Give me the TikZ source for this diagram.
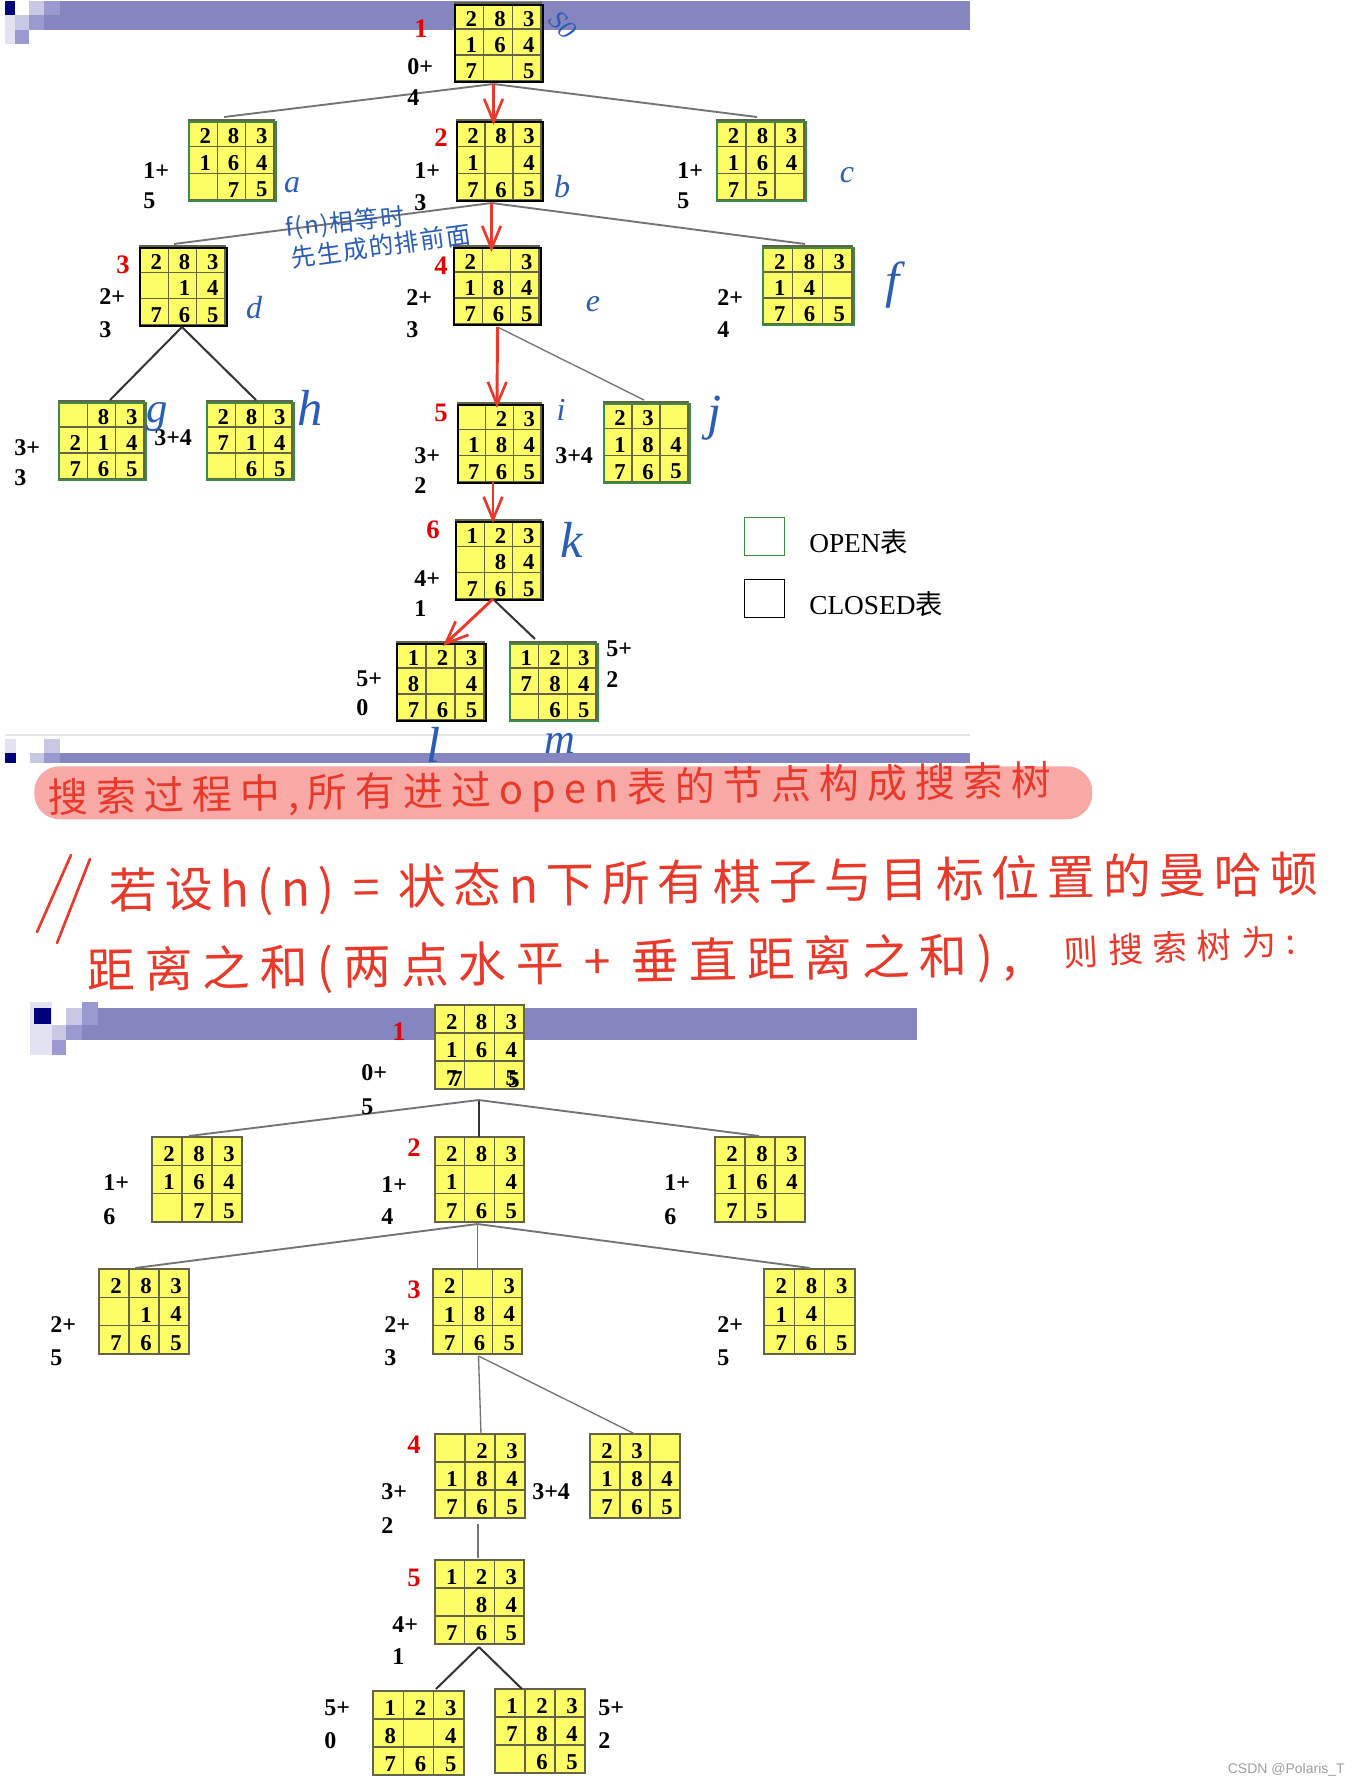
\documentclass[tikz,border=0pt]{standalone}
\usepackage{fontspec}
\setmainfont{Liberation Serif}
\newfontfamily\cjk{Noto Sans CJK SC}
\newfontfamily\wmfont{Liberation Sans}
\usetikzlibrary{arrows.meta,calc}
\definecolor{barA}{HTML}{8585C0}
\definecolor{barB}{HTML}{9A9AD0}
\definecolor{barC}{HTML}{C8C8E4}
\definecolor{barD}{HTML}{E2E2F2}
\definecolor{navyA}{HTML}{00007F}
\definecolor{cellY}{HTML}{FDFD66}
\definecolor{gridG}{HTML}{63634A}
\definecolor{openG}{HTML}{3C8A46}
\definecolor{penR}{HTML}{E8392A}
\definecolor{penB}{HTML}{2A5DB5}
\definecolor{pill}{HTML}{F8A9A6}
\def\pxu{0.75pt}
\tikzset{
  x=0.75pt,y=-0.75pt,
  cellbox/.style={draw=gridG,fill=cellY,line width=1.1pt,inner sep=0pt,outer sep=0pt,anchor=north west},
  gridln/.style={draw=gridG,line width=1pt},
  digit/.style={inner sep=0pt,font=\bfseries\fontsize{17}{17}\selectfont,text=black},
  lab/.style={inner sep=0pt,anchor=west,font=\bfseries\fontsize{18}{18}\selectfont,text=black},
  rednum/.style={inner sep=0pt,font=\bfseries\fontsize{20}{20}\selectfont,text=red!90!black},
  ringopen/.style={draw=openG,line width=0.9pt,inner sep=0pt,outer sep=0pt,anchor=north west},
  ringclosed/.style={draw=black,line width=1.3pt,inner sep=0pt,outer sep=0pt,anchor=north west},
  tree/.style={draw=black!55,line width=1.4pt},
  treedark/.style={draw=black!80,line width=1.5pt},
  treethin/.style={draw=black!55,line width=1pt},
  redarrow/.style={draw=penR,line width=2.2pt,-{Straight Barb[length=17pt,width=14pt,line width=2pt]}},
  pen/.style={inner sep=0pt,text=penB,font=\itshape\fontsize{24}{24}\selectfont},
  penmid/.style={inner sep=0pt,text=penB,font=\itshape\fontsize{32}{32}\selectfont},
  penbig/.style={inner sep=0pt,text=penB,font=\itshape\fontsize{38}{38}\selectfont},
  penred/.style={inner sep=0pt,anchor=west,text=penR},
  legendtxt/.style={inner sep=0pt,anchor=west,font=\fontsize{20.5}{21}\selectfont},
}
% yellow 3x3 board
\newcommand\puzzle[6]{%
  \node[cellbox,minimum width={(#4-#2)*\pxu},minimum height={(#5-#3)*\pxu}] (#1) at (#2,#3) {};
  \draw[gridln] ($(#1.north west)!1/3!(#1.north east)$) -- ($(#1.south west)!1/3!(#1.south east)$);
  \draw[gridln] ($(#1.north west)!2/3!(#1.north east)$) -- ($(#1.south west)!2/3!(#1.south east)$);
  \draw[gridln] ($(#1.north west)!1/3!(#1.south west)$) -- ($(#1.north east)!1/3!(#1.south east)$);
  \draw[gridln] ($(#1.north west)!2/3!(#1.south west)$) -- ($(#1.north east)!2/3!(#1.south east)$);
  \foreach \dg [count=\ii] in {#6}{%
    \ifnum\dg=0\relax\else
      \pgfmathsetmacro\cx{#2+(mod(\ii-1,3)+0.5)*(#4-#2)/3+2}%
      \pgfmathsetmacro\cy{#3+(floor((\ii-1)/3)+0.5)*(#5-#3)/3+3}%
      \node[digit] (#1-d\ii) at (\cx,\cy) {\dg};
    \fi
  }%
}
% board of the upper tree: yellow board with a shifted outline
\newcommand\tpz[7]{%
  \pgfmathsetmacro\xe{#5-2}\pgfmathsetmacro\ye{#6-1}\pgfmathsetmacro\yr{#4+2}%
  \puzzle{#2}{#3}{#4}{\xe}{\ye}{#7}
  \node[#1,minimum width={(#5-#3)*\pxu},minimum height={(#6-\yr)*\pxu}] (#2-ring) at (#3,\yr) {};
}
% connector: style, parent, dx, dy below parent, child, dx, dy below child top
\newcommand\conn[7]{%
  \draw[#1] ([xshift={(#3)*\pxu},yshift={-1*(#4)*\pxu}]#2.south) -- ([xshift={(#6)*\pxu},yshift={-1*(#7)*\pxu}]#5.north);
}
\begin{document}
\begin{tikzpicture}
\useasboundingbox (0,0) rectangle (1360,1785);
\fill[white] (0,0) rectangle (1360,1785);
% slide bars
\fill[barA] (60,1) rectangle (970,30);
\fill[barA] (44,15) rectangle (60,30);
\fill[barB] (44,1) rectangle (60,15);
\fill[barC] (29,1) rectangle (44,15);
\fill[navyA] (5,1) rectangle (15,15);
\fill[barD] (5,15) rectangle (15,44);
\fill[barC] (15,15) rectangle (29,30);
\fill[barB] (29,15) rectangle (44,30);
\fill[barB] (15,30) rectangle (29,44);
\fill[black!10] (5,734) rectangle (970,736);
\fill[barD] (5,739) rectangle (16,753);
\fill[barC] (44,739) rectangle (60,753);
\fill[navyA] (5,753) rectangle (16,763);
\fill[barC] (30,753) rectangle (44,763);
\fill[barB] (44,753) rectangle (60,763);
\fill[barA] (60,753) rectangle (970,763);
\fill[barD] (30,1002) rectangle (52,1055);
\fill[navyA] (34,1008) rectangle (51,1024);
\fill[barC] (66,1008) rectangle (82,1025);
\fill[barB] (82,1002) rectangle (98,1025);
\fill[barA] (98,1008) rectangle (917,1040);
\fill[barC] (52,1025) rectangle (66,1040);
\fill[barB] (66,1025) rectangle (82,1040);
\fill[barA] (82,1025) rectangle (98,1040);
\fill[barB] (52,1040) rectangle (66,1055);
% pink pill
\node[fill=pill,rounded corners=19pt,inner sep=0pt,minimum width={1058*\pxu},minimum height={53*\pxu},anchor=north west] (pillbox) at (34,766) {};
% upper tree: boards
\tpz{ringclosed}{ra}{455}{3}{543}{82}{2,8,3,1,6,4,7,0,5}
\tpz{ringopen}{ua}{189}{120}{276}{201}{2,8,3,1,6,4,0,7,5}
\tpz{ringclosed}{ub}{457}{120}{543}{201}{2,8,3,1,0,4,7,6,5}
\tpz{ringopen}{uc}{717}{120}{806}{201}{2,8,3,1,6,4,7,5,0}
\tpz{ringclosed}{ud}{140}{246}{227}{326}{2,8,3,0,1,4,7,6,5}
\tpz{ringclosed}{ue}{454}{246}{541}{325}{2,0,3,1,8,4,7,6,5}
\tpz{ringopen}{uf}{763}{246}{854}{325}{2,8,3,1,4,0,7,6,5}
\tpz{ringopen}{ug}{59}{401}{146}{480}{0,8,3,2,1,4,7,6,5}
\tpz{ringopen}{uh}{207}{401}{294}{480}{2,8,3,7,1,4,0,6,5}
\tpz{ringclosed}{ui}{458}{403}{543}{483}{0,2,3,1,8,4,7,6,5}
\tpz{ringopen}{uj}{604}{402}{690}{483}{2,3,0,1,8,4,7,6,5}
\tpz{ringclosed}{uk}{456}{520}{543}{600}{1,2,3,0,8,4,7,6,5}
\tpz{ringclosed}{ul}{397}{642}{486}{721}{1,2,3,8,0,4,7,6,5}
\tpz{ringopen}{um}{510}{642}{598}{721}{1,2,3,7,8,4,0,6,5}
% upper tree: connectors
\conn{tree}{ra}{-4.5}{3}{ua}{-7.5}{-3}
\conn{tree}{ra}{-4.5}{3}{uc}{-3.5}{-3}
\conn{tree}{ub}{-7.5}{3}{ud}{-8.5}{-2}
\conn{tree}{ub}{-7.5}{3}{uf}{-2.5}{-2}
\conn{treedark}{ud}{-0.5}{2}{ug}{8.5}{-1}
\conn{treedark}{ud}{-0.5}{2}{uh}{6.5}{-1}
\conn{treethin}{ue}{1}{3}{uj}{-2}{-2}
\conn{treedark}{uk}{-5.5}{0}{um}{-18}{-3}
\conn{redarrow}{ra}{-4.5}{3}{ub}{-5.5}{5}
\conn{redarrow}{ub}{-7.5}{3}{ue}{-5}{6}
\conn{redarrow}{ue}{1}{3}{ui}{-2.5}{5}
\conn{redarrow}{ui}{-6.5}{0}{uk}{-5.5}{3}
\conn{redarrow}{uk}{-5.5}{0}{ul}{2.5}{4}
% upper tree: labels
\node[rednum] (n1) at (421,29) {1};
\node[lab] (f1a) at (407,67) {0+};
\node[lab] (f1b) at (407,98) {4};
\node[lab] (fa1) at (143,171) {1+};
\node[lab] (fa2) at (143,201) {5};
\node[rednum] (n2) at (441,138) {2};
\node[lab] (fb1) at (414,171) {1+};
\node[lab] (fb2) at (414,203) {3};
\node[lab] (fc1) at (677,171) {1+};
\node[lab] (fc2) at (677,201) {5};
\node[rednum] (n3) at (123,265) {3};
\node[lab] (fd1) at (99,297) {2+};
\node[lab] (fd2) at (99,330) {3};
\node[rednum] (n4) at (441,266) {4};
\node[lab] (fe1) at (406,298) {2+};
\node[lab] (fe2) at (406,330) {3};
\node[lab] (ff1) at (717,298) {2+};
\node[lab] (ff2) at (717,330) {4};
\node[lab] (fg1) at (14,448) {3+};
\node[lab] (fg2) at (14,478) {3};
\node[lab] (fh1) at (154,438) {3+4};
\node[rednum] (n5) at (441,413) {5};
\node[lab] (fi1) at (414,456) {3+};
\node[lab] (fi2) at (414,486) {2};
\node[lab] (fj1) at (555,456) {3+4};
\node[rednum] (n6) at (433,530) {6};
\node[lab] (fk1) at (414,579) {4+};
\node[lab] (fk2) at (414,609) {1};
\node[lab] (fl1) at (356,679) {5+};
\node[lab] (fl2) at (356,708) {0};
\node[lab] (fm1) at (606,649) {5+};
\node[lab] (fm2) at (606,680) {2};
% legend
\node[draw=openG,line width=0.9pt,inner sep=0pt,anchor=north west,minimum width={40*\pxu},minimum height={38*\pxu}] (keyopen) at (744,517) {};
\node[draw=black,line width=0.9pt,inner sep=0pt,anchor=north west,minimum width={40*\pxu},minimum height={38*\pxu}] (keyclosed) at (744,579) {};
\node[legendtxt] (keyopent) at (809,542) {OPEN{\cjk 表}};
\node[legendtxt] (keyclosedt) at (809,604) {CLOSED{\cjk 表}};
% handwritten blue notes
\node[inner sep=0pt,text=penB,rotate=-45,font=\itshape\fontsize{20}{20}\selectfont] (sz) at (563,25) {S0};
\node[pen] (ha) at (292,185) {a};
\node[pen] (hb) at (562,187) {b};
\node[pen] (hc) at (847,175) {c};
\node[pen] (hd) at (254,308) {d};
\node[pen] (he) at (593,304) {e};
\node[penbig] (hf) at (893,285) {f};
\node[penmid] (hg) at (157,417) {g};
\node[penbig] (hh) at (310,408) {h};
\node[pen] (hi) at (561,410) {i};
\node[penbig] (hj) at (715,418) {j};
\node[penbig] (hk) at (572,540) {k};
\node[penbig] (hl) at (434,745) {l};
\node[penmid] (hm) at (560,743) {m};
\node[inner sep=0pt,text=penB,rotate=5.7] (note1) at (345,223) {\cjk\fontsize{18}{18}\selectfont\addfontfeature{LetterSpace=6}f(n)相等时};
\node[inner sep=0pt,text=penB,rotate=8] (note2) at (381,246) {\cjk\fontsize{18.5}{18.5}\selectfont\addfontfeature{LetterSpace=6}先生成的排前面};
% handwritten red text
\node[penred,rotate=1] (line1) at (48,800) {\cjk\fontsize{30}{30}\selectfont\addfontfeature{LetterSpace=20}搜索过程中,所有进过open表的节点构成搜索树};
\draw[penR,line width=2pt,line cap=round] (71,855) -- (37,932);
\draw[penR,line width=2pt,line cap=round] (90,859) -- (57,943);
\node[penred,rotate=0.8] (line2) at (109,893) {\cjk\fontsize{36}{36}\selectfont\addfontfeature{LetterSpace=16}若设h(n) = 状态n下所有棋子与目标位置的曼哈顿};
\node[penred,rotate=1] (line3a) at (87,973) {\cjk\fontsize{36}{36}\selectfont\addfontfeature{LetterSpace=20}距离之和(两点水平 + 垂直距离之和),};
\node[penred,rotate=3] (line3b) at (1064,953) {\cjk\fontsize{26}{26}\selectfont\addfontfeature{LetterSpace=28}则搜索树为:};
% lower tree: boards
\puzzle{ba}{435}{1005}{524}{1089}{2,8,3,1,6,4,7,0,5}
\node[digit] (ba-x7) at (457,1079) {7};
\node[digit] (ba-x5) at (514,1080) {5};
\puzzle{aa}{152}{1137}{242}{1222}{2,8,3,1,6,4,0,7,5}
\puzzle{bb}{435}{1137}{524}{1222}{2,8,3,1,0,4,7,6,5}
\puzzle{cc}{715}{1137}{805}{1222}{2,8,3,1,6,4,7,5,0}
\puzzle{dd}{99}{1269}{189}{1354}{2,8,3,0,1,4,7,6,5}
\puzzle{ee}{433}{1269}{522}{1354}{2,0,3,1,8,4,7,6,5}
\puzzle{ff}{764}{1269}{855}{1354}{2,8,3,1,4,0,7,6,5}
\puzzle{gg}{435}{1434}{525}{1518}{0,2,3,1,8,4,7,6,5}
\puzzle{hh2}{590}{1434}{680}{1518}{2,3,0,1,8,4,7,6,5}
\puzzle{kk}{435}{1560}{524}{1644}{1,2,3,0,8,4,7,6,5}
\puzzle{ll}{373}{1691}{464}{1775}{1,2,3,8,0,4,7,6,5}
\puzzle{mm}{495}{1689}{585}{1773}{1,2,3,7,8,4,0,6,5}
% lower tree: connectors
\conn{tree}{ba}{-1}{11}{aa}{-8}{-1}
\conn{treedark}{ba}{-1}{11}{bb}{-1}{0}
\conn{tree}{ba}{-1}{11}{cc}{-1}{-1}
\conn{tree}{bb}{-2}{2}{dd}{-9}{-1}
\conn{treethin}{bb}{-2}{2}{ee}{0}{0}
\conn{tree}{bb}{-2}{2}{ff}{0.5}{-1}
\conn{treethin}{ee}{1}{2}{gg}{1}{0}
\conn{treethin}{ee}{1}{2}{hh2}{0}{0}
\conn{treethin}{gg}{-2}{6}{kk}{-1.5}{-2}
\conn{treedark}{kk}{-0.5}{3}{ll}{17.5}{-2}
\conn{treedark}{kk}{-0.5}{3}{mm}{-18}{0}
% lower tree: labels
\node[rednum] (m1) at (399,1032) {1};
\node[lab] (g1a) at (361,1073) {0+};
\node[lab] (g1b) at (361,1107) {5};
\node[lab] (ga1) at (103,1183) {1+};
\node[lab] (ga2) at (103,1217) {6};
\node[rednum] (m2) at (414,1148) {2};
\node[lab] (gb1) at (381,1185) {1+};
\node[lab] (gb2) at (381,1217) {4};
\node[lab] (gc1) at (664,1183) {1+};
\node[lab] (gc2) at (664,1217) {6};
\node[lab] (gd1) at (50,1325) {2+};
\node[lab] (gd2) at (50,1358) {5};
\node[rednum] (m3) at (414,1290) {3};
\node[lab] (ge1) at (384,1325) {2+};
\node[lab] (ge2) at (384,1358) {3};
\node[lab] (gf1) at (717,1325) {2+};
\node[lab] (gf2) at (717,1358) {5};
\node[rednum] (m4) at (414,1445) {4};
\node[lab] (gg1) at (381,1492) {3+};
\node[lab] (gg2) at (381,1526) {2};
\node[lab] (gh1) at (532,1492) {3+4};
\node[rednum] (m5) at (414,1578) {5};
\node[lab] (gk1) at (392,1625) {4+};
\node[lab] (gk2) at (392,1657) {1};
\node[lab] (gl1) at (324,1708) {5+};
\node[lab] (gl2) at (324,1741) {0};
\node[lab] (gm1) at (598,1708) {5+};
\node[lab] (gm2) at (598,1741) {2};
% watermark
\node[inner sep=0pt,anchor=east,text=black!38,font=\wmfont\fontsize{10.5}{11}\selectfont] (wm) at (1345,1770) {CSDN @Polaris\_T};
\end{tikzpicture}
\end{document}
